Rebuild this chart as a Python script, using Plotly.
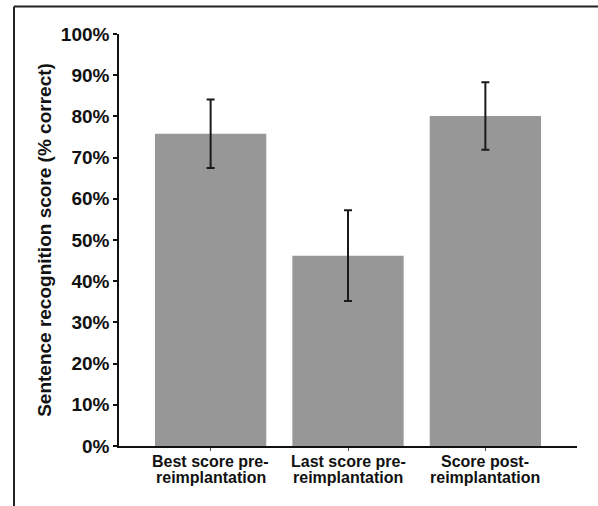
import plotly.graph_objects as go

categories = ["Best score pre-<br>reimplantation", "Last score pre-<br>reimplantation", "Score post-<br>reimplantation"]
scores = [75.8, 46.2, 80.1]
errors = [8.3, 11.0, 8.2]
ytick_vals = [0, 10, 20, 30, 40, 50, 60, 70, 80, 90, 100]
ytick_text = [f"{v}%" for v in ytick_vals]

W, H = 598, 506
ML, MR, MT, MB = 119, 21, 34, 60
pw, ph = W - ML - MR, H - MT - MB

xpos = list(range(len(categories)))

fig = go.Figure(go.Bar(
    x=xpos, y=scores, width=0.81,
    marker=dict(color="#979797", line=dict(width=0)),
    error_y=dict(type="data", array=errors, visible=True, color="#1a1a1a", thickness=2, width=4),
))

font_fam = "Liberation Sans, Arial, sans-serif"
fig.update_layout(
    width=W, height=H,
    margin=dict(l=ML, r=MR, t=MT, b=MB),
    paper_bgcolor="white", plot_bgcolor="white",
    showlegend=False,
    font=dict(family=font_fam, color="#111111"),
    xaxis=dict(
        range=[-0.667, 2.667], tickvals=xpos, showticklabels=False,
        showline=True, linecolor="#111111", linewidth=1.5,
        ticks="outside", ticklen=3, tickcolor="#555555", tickwidth=1,
        showgrid=False, zeroline=False,
    ),
    yaxis=dict(
        range=[0, 100], tickvals=ytick_vals, ticktext=ytick_text,
        showline=True, linecolor="#111111", linewidth=1.5,
        ticks="outside", ticklen=4, tickcolor="#111111", tickwidth=1.5,
        tickfont=dict(size=19, weight="bold", family=font_fam, color="#111111"),
        showgrid=False, zeroline=False,
        title=dict(text="Sentence recognition score (% correct)",
                   font=dict(size=19, weight="bold", family=font_fam, color="#111111"),
                   standoff=4),
    ),
)

# category labels: two tightly spaced lines under each bar
for xi, cat in zip(xpos, categories):
    for li, line in enumerate(cat.split("<br>")):
        fig.add_annotation(
            x=xi, xref="x", y=-(15.3 + 16 * li) / ph, yref="paper",
            text=line, showarrow=False, xanchor="center", yanchor="middle",
            font=dict(size=16, weight="bold", family=font_fam, color="#111111"),
        )

# frame lines (left and top) of the original figure panel
bx = (14 - ML) / pw
ty = (H - MB - 6.5) / ph
fig.add_shape(type="line", xref="paper", yref="paper", x0=bx, x1=bx, y0=-MB / ph - 0.01, y1=ty,
              line=dict(color="#222222", width=2))
fig.add_shape(type="line", xref="paper", yref="paper", x0=bx, x1=(W - ML + 5) / pw, y0=ty, y1=ty,
              line=dict(color="#222222", width=2))

fig.write_html("out.html", config={"displayModeBar": False},
               post_script="document.body.style.margin='0';")
